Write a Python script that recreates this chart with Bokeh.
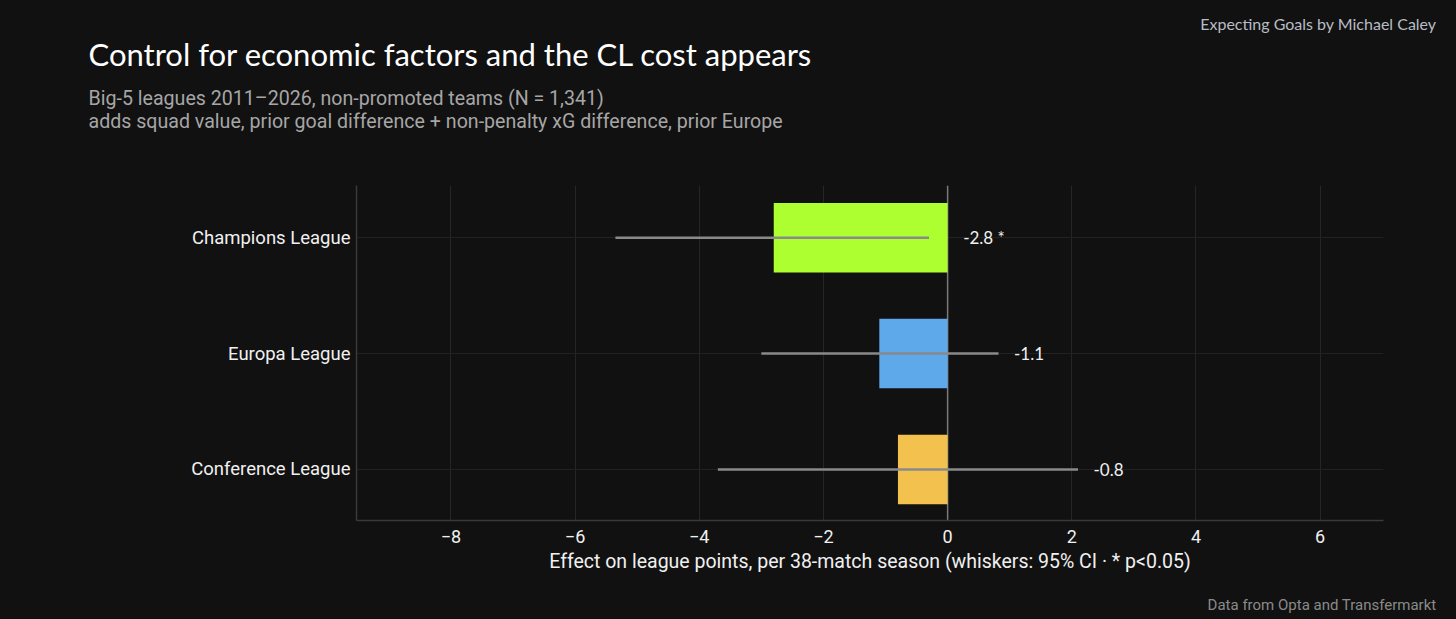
from bokeh.plotting import figure
from bokeh.models import Title, Range1d, FixedTicker, ColumnDataSource
from bokeh.core.properties import value
from bokeh.embed import file_html
from bokeh.resources import INLINE

# ---- data ----
categories = ["Conference League", "Europa League", "Champions League"]
effects = [-0.8, -1.1, -2.8]
ci_low = [-3.7, -3.0, -5.35]
ci_high = [2.1, 0.82, -0.3]
bar_labels = ["-0.8", "-1.1", "-2.8 *"]
colors = ["#F2C14E", "#5DA9E9", "#ADFF2F"]
x_ticks = [-8, -6, -4, -2, 0, 2, 4, 6]

title_text = "Control for economic factors and the CL cost appears"
subtitle_lines = ["Big-5 leagues 2011\u20132026, non-promoted teams (N = 1,341)",
                  "adds squad value, prior goal difference + non-penalty xG difference, prior Europe"]
credit_text = "Expecting Goals by Michael Caley"
source_text = "Data from Opta and Transfermarkt"
x_label = "Effect on league points, per 38-match season (whiskers: 95% CI \u00b7 * p<0.05)"

BG = "#111111"
W, H = 1456, 619
FL, FR, FT, FB = 356, 1383, 185, 520  # frame edges in canvas pixels

ypos = list(range(len(categories)))
label_x = [max(h, 0) + 0.25 for h in ci_high]
src = ColumnDataSource(dict(y=ypos, eff=effects, lo=ci_low, hi=ci_high,
                            lab=bar_labels, lx=label_x, color=colors))

p = figure(width=W, height=H, output_backend="svg", toolbar_location=None,
           x_range=Range1d(-9.52, 7.02), y_range=Range1d(-0.44, 2.45),
           min_border_left=FL, min_border_right=W - FR, min_border_top=FT,
           min_border_bottom=H - FB,
           background_fill_color=None, border_fill_color=None,
           styles={"background-color": BG})
p.outline_line_color = None

p.xgrid.grid_line_color = "#262626"
p.ygrid.grid_line_color = "#222222"
p.xaxis.ticker = FixedTicker(ticks=x_ticks)
p.xaxis.major_label_overrides = {t: str(t).replace("-", "\u2212") for t in x_ticks}
p.yaxis.ticker = FixedTicker(ticks=ypos)
p.yaxis.major_label_overrides = {i: c for i, c in zip(ypos, categories)}

for ax in (p.xaxis, p.yaxis):
    ax.axis_line_color = "#3a3a3a"
    ax.axis_line_width = 1.5
    ax.major_tick_line_color = None
    ax.minor_tick_line_color = None
    ax.major_label_text_color = "#f0f0f0"
    ax.major_label_text_font = "Roboto"
    ax.major_label_text_font_size = "18px"
p.yaxis.major_label_text_font_size = "18.5px"
p.yaxis.major_label_standoff = 0
p.xaxis.major_label_standoff = 3
p.xaxis.axis_label = x_label
p.xaxis.axis_label_text_color = "#f0f0f0"
p.xaxis.axis_label_text_font = "Roboto"
p.xaxis.axis_label_text_font_style = "normal"
p.xaxis.axis_label_text_font_size = "19.5px"
p.xaxis.axis_label_standoff = 4

p.segment(x0=0, x1=0, y0=-0.44, y1=2.45, line_color="#7a7a7a", line_width=1.5)
p.hbar(y="y", left=0, right="eff", height=0.6, fill_color="color",
       line_color=None, source=src)
p.segment(x0="lo", x1="hi", y0="y", y1="y", line_color="#8a8a8a",
          line_width=2.5, source=src)
p.text(x="lx", y="y", text="lab", source=src, text_color="#f0f0f0",
       text_font_size="17px", text_baseline="middle", text_align="left",
       text_font=value("Lato"))


def add_title(text, size, color, font, align, standoff, place="above", lh=1.2):
    off = 88 - FL if align == "left" else FR - 1436
    p.add_layout(Title(text=text, text_font_size=size, text_color=color,
                       text_font=font, text_font_style="normal", align=align,
                       offset=off, standoff=standoff, text_line_height=lh), place)


def spacer(height, place="above"):
    p.add_layout(Title(text=" ", text_font_size="1px", standoff=max(height - 3.2, 0)), place)


# above panels, stacked outward from the frame
spacer(52.5)
add_title("\n".join(subtitle_lines), "19.6px", "#a6a6a6", "Roboto", "left", 0, lh=1.03)
spacer(12.5)
add_title(title_text, "31px", "#ffffff", "Lato", "left", 0)
add_title(credit_text, "16px", "#b8bcc4", "Lato", "right", 0)
spacer(9)

# below panels, after the x axis
spacer(17.7, "below")
add_title(source_text, "15px", "#8a8a8a", "Roboto", "right", 0, "below")

open("out.html", "w").write(file_html(p, INLINE))
